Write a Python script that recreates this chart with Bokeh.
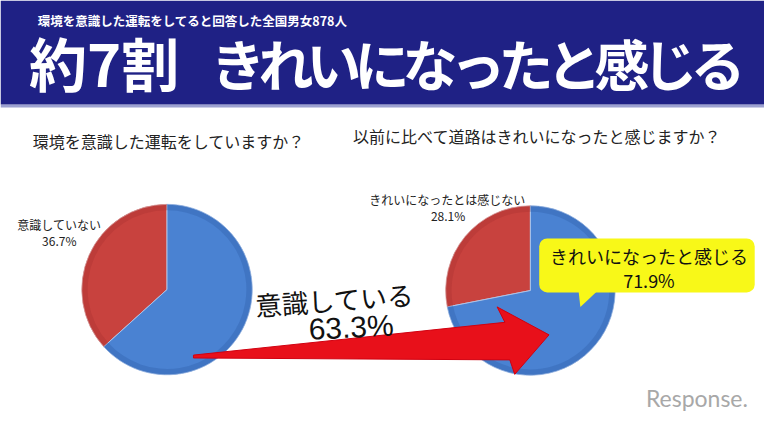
import math
from bokeh.plotting import figure
from bokeh.models import Range1d
from bokeh.core.properties import value
from bokeh.embed import file_html
from bokeh.resources import INLINE

# ---- data ----
header_sub = "環境を意識した運転をしてると回答した全国男女878人"
header_title_a = "約7割"
header_title_b = "きれいになったと感じる"
q1 = "環境を意識した運転をしていますか？"
q2 = "以前に比べて道路はきれいになったと感じますか？"
pie1_labels = ["意識している", "意識していない"]
pie1_values = [63.3, 36.7]
pie2_labels = ["きれいになったと感じる", "きれいになったとは感じない"]
pie2_values = [71.9, 28.1]
colors = ["#4a82d2", "#c8423e"]

W, H = 780, 439
FONT = value("Noto Sans CJK JP")


def Y(y):
    return H - y


p = figure(width=764, height=423, output_backend="svg", toolbar_location=None,
           x_range=Range1d(0, W), y_range=Range1d(0, H), min_border=0)
p.axis.visible = False
p.grid.visible = False
p.outline_line_color = None
p.background_fill_color = "white"

# header
p.quad(left=0, right=W, top=Y(0), bottom=Y(108), fill_color="#1f2185", line_color=None)
p.quad(left=0, right=W, top=Y(108), bottom=Y(111), fill_color="#5a62b0", line_color=None, fill_alpha=0.6)
p.text(x=[38], y=[Y(21)], text=[header_sub], text_font=FONT, text_font_style="bold",
       text_font_size="12.5px", text_color="white", text_baseline="middle", text_align="left")
p.text(x=[29], y=[Y(64)], text=[header_title_a], text_font=FONT, text_font_style="bold",
       text_font_size="58px", text_color="white", text_baseline="middle", text_align="left")
# the kana run is spread evenly across its span (the original font has narrow kana)
b_left, b_right = 218, 757
n = len(header_title_b)
step = (b_right - b_left) / n
p.text(x=[b_left + step * (i + 0.5) for i in range(n)], y=[Y(64)] * n, text=list(header_title_b),
       text_font=FONT, text_font_style="bold", text_font_size="55px", text_color="white",
       text_baseline="middle", text_align="center")

# questions
p.text(x=[33], y=[Y(146)], text=[q1], text_font=FONT, text_font_size="16px",
       text_color="#222222", text_baseline="middle", text_align="left")
p.text(x=[360], y=[Y(141)], text=[q2], text_font=FONT, text_font_size="16px",
       text_color="#222222", text_baseline="middle", text_align="left")


def pie(cx, cy, r, values):
    total = sum(values)
    # values[0] clockwise from top (blue), values[1] counter-clockwise from top (red)
    a_red = values[1] / total * 2 * math.pi
    start = math.pi / 2
    p.wedge(x=cx, y=Y(cy), radius=r, start_angle=start, end_angle=start + a_red,
            fill_color=colors[1], line_color="#e0b0b0", line_width=1)
    p.wedge(x=cx, y=Y(cy), radius=r, start_angle=start + a_red, end_angle=start + 2 * math.pi,
            fill_color=colors[0], line_color="#a9c3ea", line_width=1)
    # soft bevel rim
    p.annular_wedge(x=cx, y=Y(cy), inner_radius=r - 6, outer_radius=r,
                    start_angle=start, end_angle=start + a_red,
                    fill_color="#a83230", fill_alpha=0.35, line_color=None)
    p.annular_wedge(x=cx, y=Y(cy), inner_radius=r - 6, outer_radius=r,
                    start_angle=start + a_red, end_angle=start + 2 * math.pi,
                    fill_color="#2f5fa8", fill_alpha=0.35, line_color=None)


pie(170, 300, 87, pie1_values)
pie(541, 301, 86.5, pie2_values)

# small labels
p.text(x=[60, 60], y=[Y(232), Y(249)],
       text=[pie1_labels[1], f"{pie1_values[1]}%"], text_font=FONT, text_font_size="12px",
       text_color="#222222", text_baseline="middle", text_align="center")
p.text(x=[456, 457], y=[Y(207), Y(223)],
       text=[pie2_labels[1], f"{pie2_values[1]}%"], text_font=FONT, text_font_size="12px",
       text_color="#222222", text_baseline="middle", text_align="center")

# red arrow
ax = [197, 515, 507, 560, 525, 520, 197]
ay = [368, 334, 318, 347, 388, 373, 371]
p.patch(x=ax, y=[Y(v) for v in ay], fill_color="#e8101a", line_color="#d00010", line_width=1)

# big label for pie 1
p.text(x=[341], y=[Y(310)], text=[pie1_labels[0]], angle=0.07, text_font=FONT,
       text_font_size="26.5px", text_color="#111111", text_baseline="middle", text_align="center")
p.text(x=[358], y=[Y(339)], text=[f"{pie1_values[0]}%"], angle=0.05, text_font=value("Liberation Sans"),
       text_font_size="30px", text_color="#111111", text_baseline="middle", text_align="center")

# yellow callout
p.patch(x=[590, 592, 611], y=[Y(300), Y(318), Y(300)], fill_color="#f8f818", line_color=None)
p.quad(left=550, right=770, top=Y(247), bottom=Y(303), fill_color="#f8f818",
       line_color=None, border_radius=8)
p.text(x=[662, 662], y=[Y(265), Y(290)], text=[pie2_labels[0], f"{pie2_values[0]}%"],
       text_font=FONT, text_font_size="18px", text_color="#111111",
       text_baseline="middle", text_align="center")

# logo
p.text(x=[711], y=[Y(413)], text=["Response."], text_font=value("Lato"),
       text_font_size="23px", text_color="#a8a8a8", text_baseline="middle", text_align="center")

open("out.html", "w").write(file_html(p, INLINE))
